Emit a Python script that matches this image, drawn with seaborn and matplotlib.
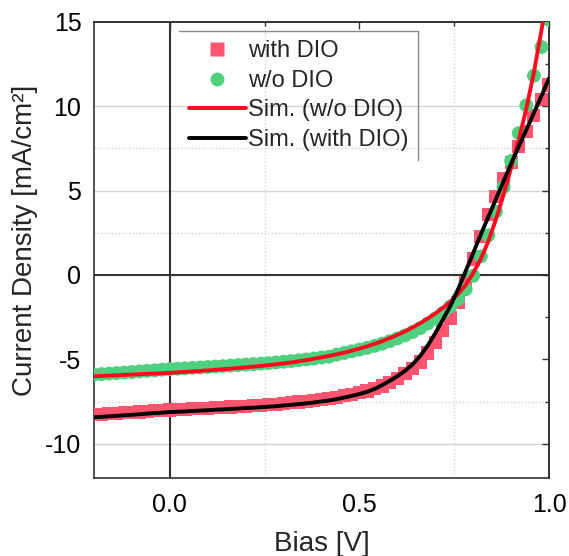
import pandas as pd
import matplotlib
matplotlib.use("Agg")
import matplotlib.pyplot as plt
from matplotlib.lines import Line2D
import seaborn as sns

# bias grid (V), measured every 20 mV
bias = [-0.20, -0.18, -0.16, -0.14, -0.12, -0.10, -0.08, -0.06, -0.04, -0.02,
        0.00, 0.02, 0.04, 0.06, 0.08, 0.10, 0.12, 0.14, 0.16, 0.18,
        0.20, 0.22, 0.24, 0.26, 0.28, 0.30, 0.32, 0.34, 0.36, 0.38,
        0.40, 0.42, 0.44, 0.46, 0.48, 0.50, 0.52, 0.54, 0.56, 0.58,
        0.60, 0.62, 0.64, 0.66, 0.68, 0.70, 0.72, 0.74, 0.76, 0.78,
        0.80, 0.82, 0.84, 0.86, 0.88, 0.90, 0.92, 0.94, 0.96, 0.98, 1.00]

# measured current density (mA/cm2)
with_dio = [-8.26, -8.24, -8.21, -8.18, -8.16, -8.13, -8.11, -8.08, -8.05, -8.03,
            -8.00, -7.98, -7.96, -7.93, -7.91, -7.89, -7.86, -7.84, -7.82, -7.79,
            -7.77, -7.74, -7.71, -7.68, -7.65, -7.61, -7.57, -7.52, -7.47, -7.42,
            -7.37, -7.31, -7.24, -7.16, -7.07, -6.98, -6.87, -6.74, -6.58, -6.38,
            -6.12, -5.85, -5.55, -5.15, -4.62, -4.00, -3.30, -2.55, -1.65, -0.45,
            0.95, 2.30, 3.60, 4.65, 5.70, 6.65, 7.60, 8.50, 9.45, 10.40, 11.25]

wo_dio = [-5.90, -5.87, -5.84, -5.81, -5.78, -5.75, -5.71, -5.68, -5.65, -5.61,
          -5.58, -5.55, -5.53, -5.50, -5.48, -5.45, -5.42, -5.40, -5.37, -5.34,
          -5.31, -5.28, -5.25, -5.22, -5.18, -5.14, -5.10, -5.05, -5.00, -4.95,
          -4.89, -4.84, -4.72, -4.62, -4.52, -4.42, -4.32, -4.20, -4.07, -3.92,
          -3.76, -3.58, -3.38, -3.15, -2.88, -2.58, -2.24, -1.86, -1.42, -0.85,
          -0.05, 1.10, 2.35, 3.75, 5.20, 6.75, 8.40, 10.05, 11.80, 13.50, 15.10]

# simulated curves
sim_wo = [-6.00, -5.98, -5.96, -5.94, -5.92, -5.90, -5.88, -5.86, -5.84, -5.82,
          -5.80, -5.77, -5.74, -5.71, -5.68, -5.65, -5.62, -5.58, -5.55, -5.51,
          -5.47, -5.43, -5.39, -5.34, -5.29, -5.24, -5.18, -5.11, -5.04, -4.96,
          -4.88, -4.79, -4.70, -4.60, -4.48, -4.36, -4.23, -4.08, -3.92, -3.74,
          -3.55, -3.34, -3.11, -2.86, -2.58, -2.28, -1.95, -1.58, -1.12, -0.60,
          0.12, 0.95, 2.00, 3.30, 4.75, 6.35, 8.00, 9.85, 12.00, 14.50, 17.30]

sim_with = [-8.43, -8.40, -8.37, -8.34, -8.31, -8.28, -8.25, -8.21, -8.18, -8.15,
            -8.12, -8.10, -8.08, -8.05, -8.03, -8.01, -7.98, -7.96, -7.93, -7.91,
            -7.88, -7.86, -7.83, -7.80, -7.77, -7.73, -7.69, -7.65, -7.60, -7.55,
            -7.49, -7.43, -7.35, -7.26, -7.16, -7.05, -6.92, -6.75, -6.52, -6.27,
            -6.00, -5.68, -5.30, -4.80, -4.18, -3.45, -2.65, -1.82, -0.85, 0.22,
            1.30, 2.40, 3.45, 4.50, 5.55, 6.60, 7.60, 8.60, 9.60, 10.60, 11.65]

labels = ["with DIO", "w/o DIO", "Sim. (w/o DIO)", "Sim. (with DIO)"]

df = pd.DataFrame({"bias": bias, "with_dio": with_dio, "wo_dio": wo_dio,
                   "sim_wo": sim_wo, "sim_with": sim_with})

sns.set_style("white")
plt.rcParams["font.family"] = ["Liberation Sans", "DejaVu Sans"]
plt.rcParams["axes.unicode_minus"] = False

pink = "#ff5470"
green = "#4fd07e"
red = "#ff0a1e"
dark = "#333333"

fig = plt.figure(figsize=(5.69, 5.56), dpi=100)
ax = fig.add_axes([0.165, 0.141, 0.8, 0.82])

# grid like the original (only some lines shown)
for yv in [-10, 5, 10]:
    ax.axhline(yv, color="#d4d4d4", lw=1.0, zorder=0)
for yv in [-7.5, 2.5, 7.5]:
    ax.axhline(yv, color="#d4d4d4", lw=1.0, ls=(0, (1, 1.5)), zorder=0)
for xv in [0.25, 0.75]:
    ax.axvline(xv, color="#d4d4d4", lw=1.0, ls=(0, (1, 1.5)), zorder=0)
ax.axhline(0, color=dark, lw=1.5, zorder=1)
ax.axvline(0, color=dark, lw=1.5, zorder=1)

sns.scatterplot(data=df, x="bias", y="with_dio", marker="s", s=90, color=pink,
                edgecolor="none", linewidth=0, ax=ax, zorder=3, legend=False)
sns.scatterplot(data=df, x="bias", y="wo_dio", marker="o", s=100, color=green,
                edgecolor="none", linewidth=0, ax=ax, zorder=3, legend=False)
sns.lineplot(data=df, x="bias", y="sim_wo", color=red, lw=2.8, ax=ax,
             zorder=4, legend=False)
sns.lineplot(data=df, x="bias", y="sim_with", color="black", lw=2.8, ax=ax,
             zorder=5, legend=False)

ax.set_xlim(-0.2, 1.0)
ax.set_ylim(-12, 15)
ax.set_xticks([0.0, 0.5, 1.0])
ax.set_xticklabels(["0.0", "0.5", "1.0"])
ax.set_xticks([0.25, 0.75], minor=True)
ax.set_yticks([-10, -5, 0, 5, 10, 15])
ax.set_yticks([-7.5, -2.5, 2.5, 7.5, 12.5], minor=True)
ax.tick_params(which="both", direction="out", color=dark, width=1.0,
               labelsize=18, labelcolor="black")
ax.tick_params(which="major", length=5)
ax.tick_params(which="minor", length=3)
ax.tick_params(axis="x", pad=6)
ax.tick_params(axis="y", pad=4)

# mirrored ticks on top and right, pointing in
secx = ax.secondary_xaxis("top")
secx.set_xticks([0.0, 0.5, 1.0])
secx.set_xticks([0.25, 0.75], minor=True)
secx.tick_params(which="both", direction="in", labeltop=False, color=dark, width=1.0)
secx.tick_params(which="major", length=5)
secx.tick_params(which="minor", length=3)
secy = ax.secondary_yaxis("right")
secy.set_yticks([-10, -5, 0, 5, 10, 15])
secy.set_yticks([-7.5, -2.5, 2.5, 7.5, 12.5], minor=True)
secy.tick_params(which="both", direction="in", labelright=False, color=dark, width=1.0)
secy.tick_params(which="major", length=5)
secy.tick_params(which="minor", length=3)
for sp in list(ax.spines.values()) + [secx.spines["top"], secy.spines["right"]]:
    sp.set_color(dark)
    sp.set_linewidth(1.2)

ax.set_xlabel("Bias [V]", fontsize=20)
ax.set_ylabel("Current Density [mA/cm²]", fontsize=20)
ax.xaxis.set_label_coords(0.5, -0.118)
ax.yaxis.set_label_coords(-0.122, 0.52)

handles = [
    Line2D([], [], marker="s", ls="", ms=9.5, color=pink, mec="none"),
    Line2D([], [], marker="o", ls="", ms=10, color=green, mec="none"),
    Line2D([], [], color=red, lw=2.8),
    Line2D([], [], color="black", lw=2.8),
]
leg = ax.legend(handles, labels, loc="upper left", bbox_to_anchor=(0.188, 0.98),
                frameon=False, fontsize=17, handlelength=2.4, handletextpad=0.12,
                labelspacing=0.32, borderpad=0.4, borderaxespad=0)

# legend frame: only top and right edges visible in the original
fig.canvas.draw()
bb = leg.get_window_extent().transformed(fig.transFigure.inverted())
fig.add_artist(Line2D([bb.x0, bb.x1], [bb.y1, bb.y1], color="#888888", lw=1.0,
                      transform=fig.transFigure))
fig.add_artist(Line2D([bb.x1, bb.x1], [bb.y0, bb.y1], color="#888888", lw=1.0,
                      transform=fig.transFigure))

fig.savefig("out.png", dpi=100)
